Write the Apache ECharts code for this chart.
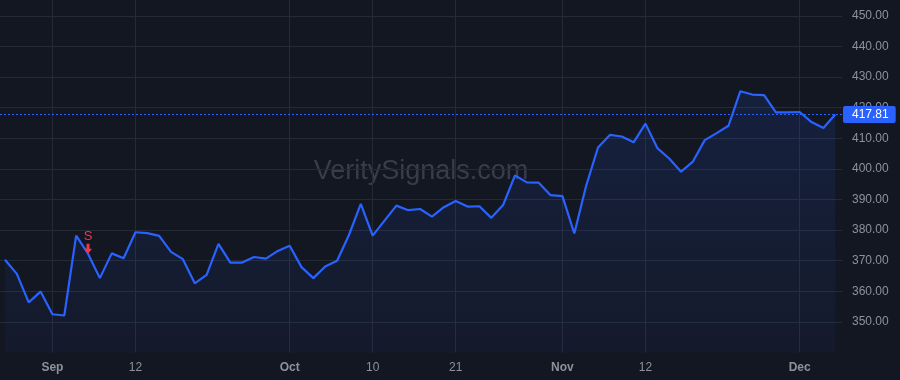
<!DOCTYPE html>
<html>
<head>
<meta charset="utf-8">
<style>
  html, body { margin: 0; padding: 0; background: #131722; }
  #chart { width: 900px; height: 380px; }
</style>
<script src="https://cdn.jsdelivr.net/npm/echarts@6/dist/echarts.min.js"></script>
</head>
<body>
<div id="chart"></div>
<script>
// Trading days (Aug 27 – Dec 5, 2024)
const dates = [
  'Aug 27','Aug 28','Aug 29','Aug 30','Sep 3','Sep 4','Sep 5','Sep 6','Sep 9','Sep 10',
  'Sep 11','Sep 12','Sep 13','Sep 16','Sep 17','Sep 18','Sep 19','Sep 20','Sep 23','Sep 24',
  'Sep 25','Sep 26','Sep 27','Sep 30','Oct 1','Oct 2','Oct 3','Oct 4','Oct 7','Oct 8',
  'Oct 9','Oct 10','Oct 11','Oct 14','Oct 15','Oct 16','Oct 17','Oct 18','Oct 21','Oct 22',
  'Oct 23','Oct 24','Oct 25','Oct 28','Oct 29','Oct 30','Oct 31','Nov 1','Nov 4','Nov 5',
  'Nov 6','Nov 7','Nov 8','Nov 11','Nov 12','Nov 13','Nov 14','Nov 15','Nov 18','Nov 19',
  'Nov 20','Nov 21','Nov 22','Nov 25','Nov 26','Nov 27','Nov 29','Dec 2','Dec 3','Dec 4','Dec 5'
];
const closes = [
  370.3, 365.7, 356.4, 359.9, 352.5, 352.1, 378.2, 372.3, 364.3, 372.4,
  370.8, 379.3, 379.0, 378.1, 372.9, 370.5, 362.6, 365.4, 375.5, 369.4,
  369.4, 371.2, 370.7, 373.2, 374.9, 367.9, 364.3, 368.1, 370.0, 378.4,
  388.6, 378.2, 383.1, 388.0, 386.5, 386.9, 384.4, 387.5, 389.5, 387.7,
  387.8, 384.0, 388.2, 397.9, 395.6, 395.5, 391.4, 391.1, 378.9, 394.5,
  407.0, 411.1, 410.6, 408.7, 414.8, 406.8, 403.4, 399.1, 402.4, 409.4,
  411.7, 414.1, 425.4, 424.3, 424.1, 418.5, 418.5, 418.6, 415.3, 413.4, 417.81
];
const lastPrice = 417.81;
// x tick positions (index into dates) and their labels
const xTickIdx = [4, 11, 24, 31, 38, 47, 54, 67];
const xTickLabels = ['Sep', '12', 'Oct', '10', '21', 'Nov', '12', 'Dec'];
// y tick values
const yTicks = [350, 360, 370, 380, 390, 400, 410, 420, 430, 440, 450];
// signals
const signalIdx = [7];
const signalText = ['S'];

const gridColor = '#252a36';
const textColor = '#8e919a';
const blue = '#2962ff';
const red = '#f23645';

const seriesData = closes.map((v, i) => [i, v]);

const chart = echarts.init(document.getElementById('chart'), null, { renderer: 'canvas' });
chart.setOption({
  animation: false,
  backgroundColor: '#131722',
  textStyle: { fontFamily: '"Liberation Sans", Arial, sans-serif' },
  graphic: [{
    type: 'text',
    x: 421, y: 172, z: -1,
    silent: true,
    style: {
      text: 'VeritySignals.com',
      fontSize: 27,
      fontFamily: '"Liberation Sans", Arial, sans-serif',
      fill: '#393d49',
      textAlign: 'center',
      textVerticalAlign: 'middle'
    }
  }],
  grid: { left: 0, right: 58, top: 0, bottom: 27.5, containLabel: false },
  xAxis: {
    type: 'value',
    min: -0.42,
    max: 70.57,
    axisLine: { show: false },
    axisTick: { show: false, customValues: xTickIdx },
    splitLine: { show: true, lineStyle: { color: gridColor, width: 1 } },
    axisLabel: {
      customValues: xTickIdx,
      margin: 9,
      fontSize: 12,
      color: textColor,
      formatter: function (v) {
        const k = xTickIdx.indexOf(Math.round(v));
        if (k < 0) return '';
        const t = xTickLabels[k];
        return isNaN(Number(t)) ? '{b|' + t + '}' : '{n|' + t + '}';
      },
      rich: {
        b: { fontWeight: 'bold', fontSize: 12, color: textColor },
        n: { fontSize: 12, color: textColor }
      }
    }
  },
  yAxis: {
    type: 'value',
    position: 'right',
    min: 340,
    max: 455.2,
    axisLine: { show: false },
    axisTick: { show: false, customValues: yTicks },
    splitLine: { show: true, lineStyle: { color: gridColor, width: 1 } },
    axisLabel: {
      customValues: yTicks,
      margin: 10,
      fontSize: 12,
      color: textColor,
      formatter: function (v) { return v.toFixed(2); }
    }
  },
  series: [{
    type: 'line',
    data: seriesData,
    showSymbol: false,
    symbol: 'none',
    lineStyle: { color: blue, width: 2.2 },
    itemStyle: { color: blue },
    areaStyle: {
      origin: 'start',
      color: new echarts.graphic.LinearGradient(0, 0, 0, 1, [
        { offset: 0, color: 'rgba(41,98,255,0.18)' },
        { offset: 1, color: 'rgba(41,98,255,0.06)' }
      ])
    },
    markLine: {
      silent: true,
      symbol: ['none', 'none'],
      lineStyle: { color: blue, type: [2, 2], width: 1 },
      label: {
        show: true,
        position: 'end',
        distance: 1,
        formatter: function (p) { return p.value.toFixed(2); },
        backgroundColor: blue,
        color: '#ffffff',
        fontSize: 12,
        padding: [3, 7, 2, 9],
        borderRadius: 2
      },
      data: [{ yAxis: lastPrice }]
    },
    markPoint: {
      silent: true,
      data: signalIdx.map((idx, k) => ({
        coord: [idx, closes[idx]],
        symbol: 'path://M2.5,0 L5.5,0 L5.5,5 L8,5 L4,10 L0,5 L2.5,5 Z',
        symbolSize: [8, 10],
        symbolOffset: [0, -5],
        itemStyle: { color: red },
        label: {
          show: true,
          position: 'top',
          distance: 1,
          formatter: signalText[k],
          color: red,
          fontSize: 13
        }
      }))
    }
  }]
});
</script>
</body>
</html>
